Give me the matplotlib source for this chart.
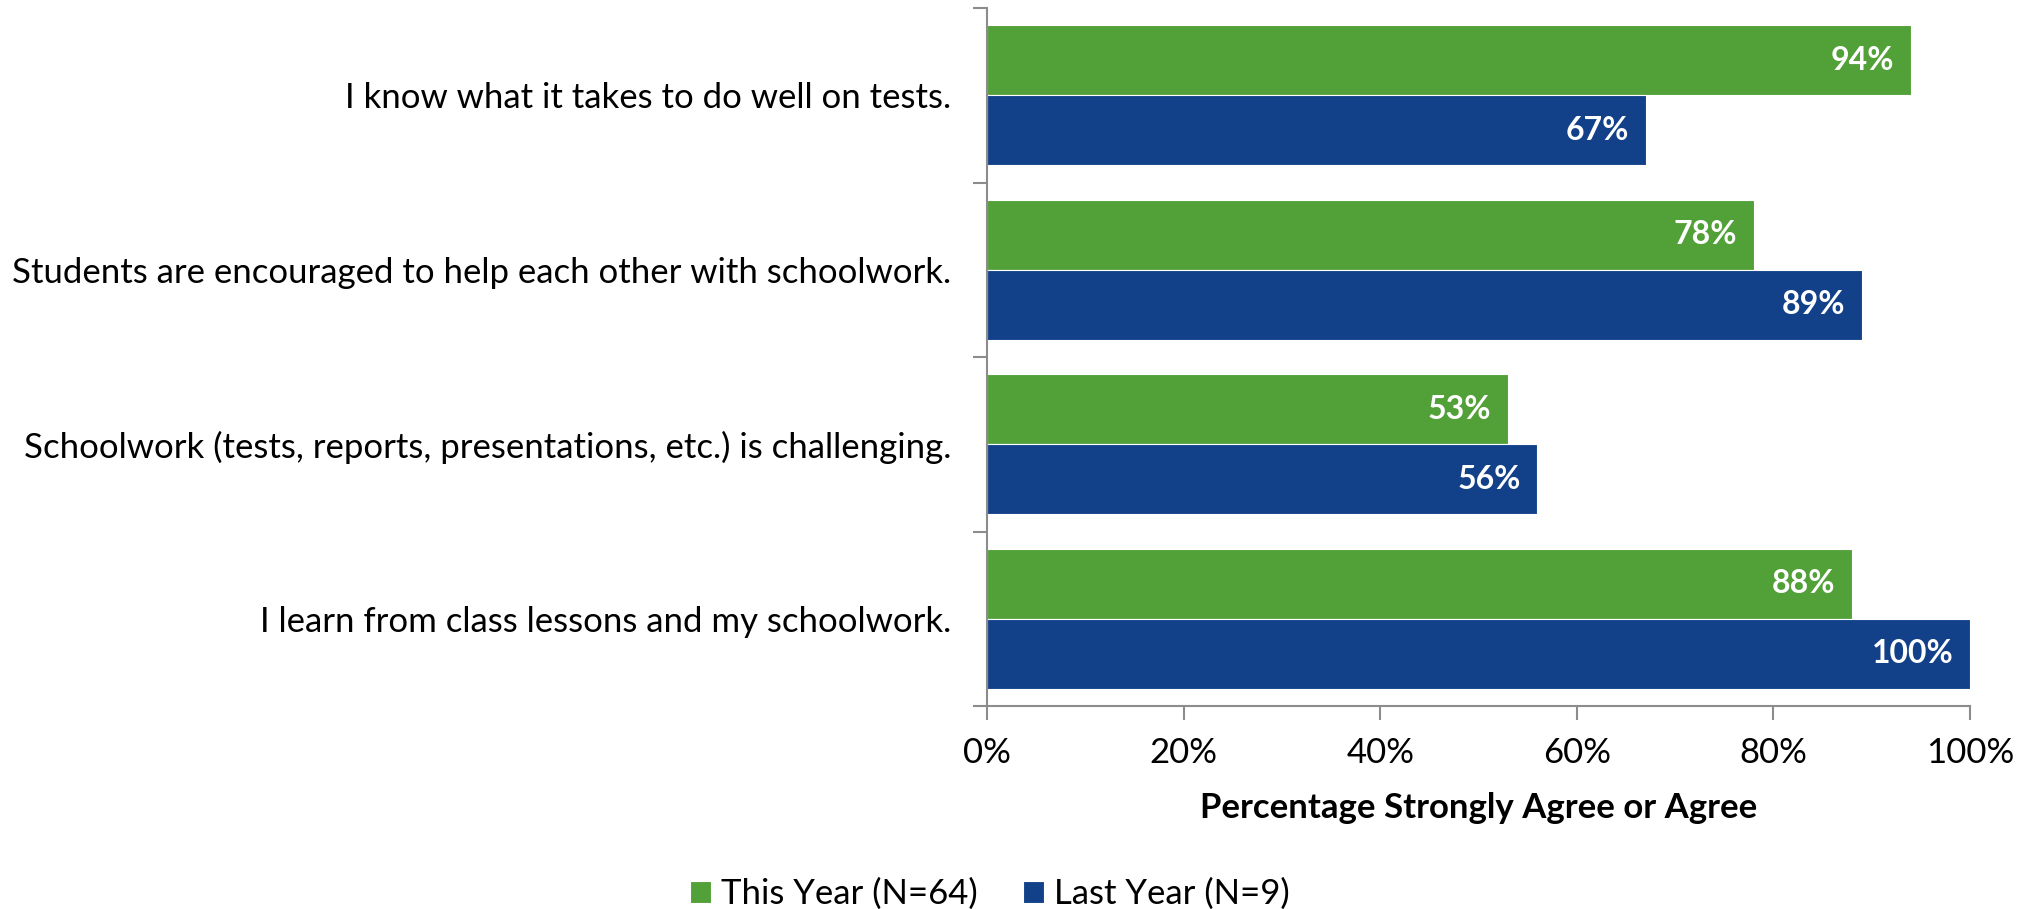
import matplotlib.pyplot as plt
import numpy as np

# survey items, top to bottom
categories = [
    "I know what it takes to do well on tests.",
    "Students are encouraged to help each other with schoolwork.",
    "Schoolwork (tests, reports, presentations, etc.) is challenging.",
    "I learn from class lessons and my schoolwork.",
]
this_year = [94, 78, 53, 88]
last_year = [67, 89, 56, 100]
series_names = ["This Year (N=64)", "Last Year (N=9)"]
x_ticks = [0, 20, 40, 60, 80, 100]

GREEN = "#52A038"
BLUE = "#124189"
AXIS_GRAY = "#8C8C8C"

plt.rcParams['font.family'] = ['Lato', 'DejaVu Sans']

fig = plt.figure(figsize=(20.3, 9.09), dpi=100)
ax = fig.add_axes([987 / 2030, 1 - 706 / 909, (1970 - 987) / 2030, (706 - 8) / 909])

y = np.arange(len(categories))
h = 0.4
bars_this = ax.barh(y - h / 2, this_year, height=h, color=GREEN, edgecolor="white",
                    linewidth=0.8, label=series_names[0])
bars_last = ax.barh(y + h / 2, last_year, height=h, color=BLUE, edgecolor="white",
                    linewidth=0.8, label=series_names[1])

# value labels inside the bar ends
for bars, vals in [(bars_this, this_year), (bars_last, last_year)]:
    for bar, v in zip(bars, vals):
        ax.text(v - 1.7, bar.get_y() + bar.get_height() / 2, f"{v}%",
                ha="right", va="center", color="white", fontsize=23, fontweight="bold")

ax.set_xlim(0, 100)
ax.set_ylim(len(categories) - 0.5, -0.5)
ax.set_xticks(x_ticks)
ax.set_xticklabels([f"{t}%" for t in x_ticks], fontsize=25)
ax.set_yticks(y)
ax.set_yticklabels(categories, fontsize=25)
ax.set_yticks(np.arange(len(categories) + 1) - 0.5, minor=True)
ax.tick_params(axis="y", which="major", length=0, pad=26)
ax.tick_params(axis="y", which="minor", length=10, width=1.5, color=AXIS_GRAY)
ax.tick_params(axis="x", which="major", length=10, width=1.5, color=AXIS_GRAY, pad=12)

for side in ["top", "right"]:
    ax.spines[side].set_visible(False)
for side in ["left", "bottom"]:
    ax.spines[side].set_color(AXIS_GRAY)
    ax.spines[side].set_linewidth(1.5)

ax.set_xlabel("Percentage Strongly Agree or Agree", fontsize=25, fontweight="bold", labelpad=17)

fig.legend(handles=[bars_this, bars_last], loc="center", bbox_to_anchor=(990 / 2030, 1 - 894 / 909),
           ncol=2, frameon=False, fontsize=25, handlelength=0.6, handleheight=0.6,
           handletextpad=0.3, columnspacing=1.3)

fig.savefig("out.png", dpi=100)
